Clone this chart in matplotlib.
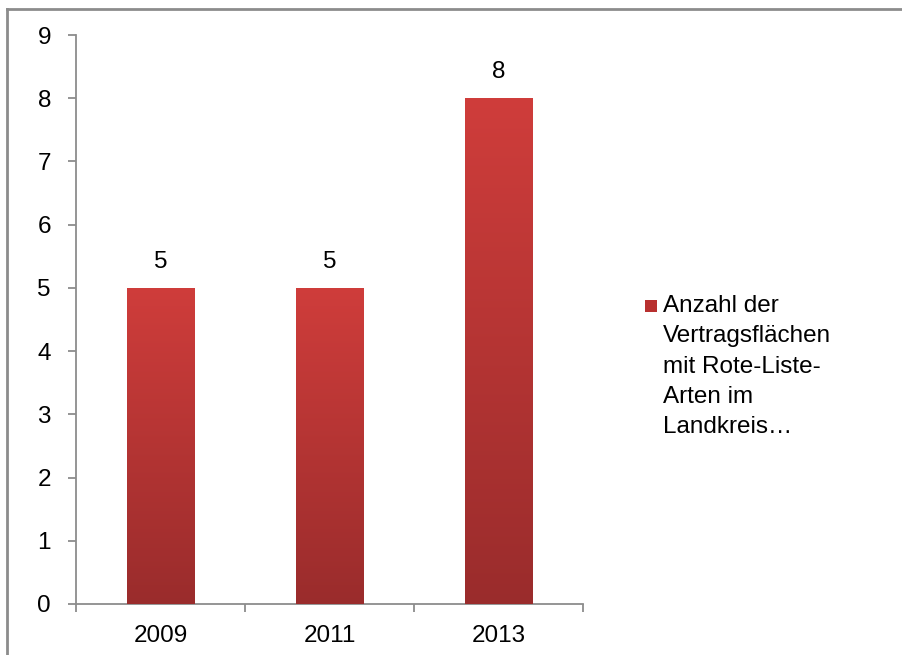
import matplotlib
matplotlib.use("Agg")
import numpy as np
from matplotlib import pyplot as plt
from matplotlib.colors import LinearSegmentedColormap
from matplotlib.lines import Line2D

plt.rcParams["font.family"] = ["Liberation Sans", "DejaVu Sans"]

years = ["2009", "2011", "2013"]
counts = [5, 5, 8]
legend_label = "Anzahl der\nVertragsflächen\nmit Rote-Liste-\nArten im\nLandkreis…"

W, H = 903, 655
FS = 17.5
fig = plt.figure(figsize=(W / 100, H / 100), dpi=100)
ax = fig.add_axes([76 / W, 1 - 604 / H, (583 - 76) / W, (604 - 35) / H])

x = np.arange(len(years))
bars = ax.bar(x, counts, width=0.4, color="#c53a38", zorder=2)

# vertical gradient inside each bar (light on top, dark at bottom)
cmap = LinearSegmentedColormap.from_list("red_grad", ["#9a2c2c", "#cf3d3b"])
grad = np.linspace(0, 1, 256).reshape(-1, 1)
for b in bars:
    b.set_facecolor("none")
    b.set_edgecolor("none")
    x0, y0, w, h = b.get_x(), b.get_y(), b.get_width(), b.get_height()
    im = ax.imshow(grad, cmap=cmap, aspect="auto", origin="lower",
                   extent=[x0, x0 + w, y0, y0 + h], zorder=3)
    im.set_clip_path(b)
    ax.annotate(f"{h:g}", (x0 + w / 2, h), xytext=(0, 11),
                textcoords="offset points", ha="center", va="bottom",
                fontsize=FS, color="black")

ax.set_xlim(-0.5, len(years) - 0.5)
ax.set_ylim(0, 9)
ax.set_yticks(range(0, 10))
ax.set_xticks(np.arange(-0.5, len(years), 1.0))
ax.set_xticklabels([])
ax.set_xticks(x, minor=True)
ax.set_xticklabels(years, minor=True)
ax.tick_params(axis="x", which="minor", length=0, pad=15, labelsize=FS)
ax.tick_params(axis="x", which="major", length=6, width=1.3, color="#8c8c8c")
ax.tick_params(axis="y", length=6, width=1.3, color="#8c8c8c",
               labelsize=FS, pad=12)

for s in ["top", "right"]:
    ax.spines[s].set_visible(False)
for s in ["left", "bottom"]:
    ax.spines[s].set_color("#8c8c8c")
    ax.spines[s].set_linewidth(1.3)

# legend entry
fig.patches.append(plt.Rectangle((645 / W, 1 - 312 / H), 12 / W, 12 / H,
                                 transform=fig.transFigure,
                                 facecolor="#b8302f", edgecolor="none"))
fig.text(663 / W, 1 - 295 / H, legend_label, ha="left", va="top",
         fontsize=FS, linespacing=1.49)

# outer chart border (left and top visible)
fig.add_artist(Line2D([7 / W, 7 / W], [0, 1 - 9 / H],
                      transform=fig.transFigure, color="#8c8c8c", lw=2))
fig.add_artist(Line2D([7 / W, 1], [1 - 9 / H, 1 - 9 / H],
                      transform=fig.transFigure, color="#8c8c8c", lw=2))

plt.savefig("out.png", dpi=100)
plt.close()
